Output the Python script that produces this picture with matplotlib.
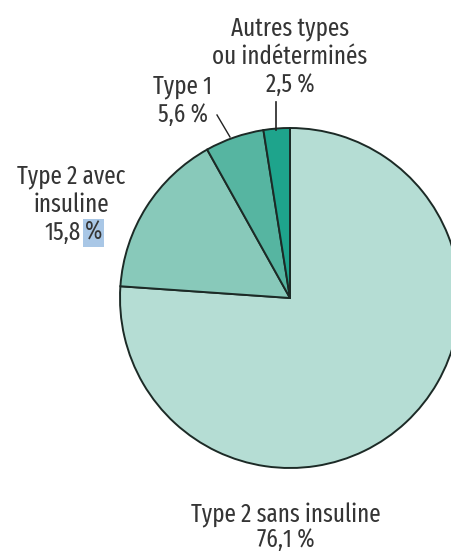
import matplotlib.pyplot as plt

plt.rcParams['font.family'] = ['Fira Sans Extra Condensed', 'DejaVu Sans']

# data
labels = ["Type 2 sans insuline", "Type 2 avec insuline", "Type 1", "Autres types ou indéterminés"]
shares = [76.1, 15.8, 5.6, 2.5]
share_text = ["76,1 %", "15,8 %", "5,6 %", "2,5 %"]
colors = ["#b5ddd4", "#88c9ba", "#56b5a1", "#1ea48c"]

W, H = 452, 552
fig = plt.figure(figsize=(W / 100, H / 100), dpi=100)
ax = fig.add_axes([0, 0, 1, 1])

cx, cy, r = 290, H - 298, 170
ax.pie(shares, colors=colors, startangle=90, counterclock=False,
       center=(cx, cy), radius=r, frame=True,
       wedgeprops={"edgecolor": "#1c2a26", "linewidth": 1.4})
ax.set_xlim(0, W)
ax.set_ylim(0, H)
ax.set_aspect('equal')
ax.axis('off')

tc = "#353535"
fs = 18


def lines(x, base, rows, step=28.5):
    # base = baseline of first row, in pixels from the top
    for i, row in enumerate(rows):
        ax.text(x, H - (base + i * step), row, ha='center', va='baseline',
                fontsize=fs, color=tc)


lines(290, 35, ["Autres types", "ou indéterminés", share_text[3]])
ax.plot([276, 276], [H - 102, H - 130], color="#222222", lw=1.2)

lines(183, 93, ["Type 1", share_text[2]])
ax.plot([217, 230], [H - 115, H - 137], color="#222222", lw=1.0)

# the "%" of 15,8 % carries a blue highlight in the source
num, pct = share_text[1].split(" ")
lines(71, 183, ["Type 2 avec", "insuline"])
ax.text(81, H - 240, num, ha='right', va='baseline', fontsize=fs, color=tc)
ax.text(85, H - 240, pct, ha='left', va='baseline', fontsize=fs, color=tc,
        bbox={"facecolor": "#a9c7e6", "edgecolor": "none", "pad": 1})

lines(286, 522, [labels[0], share_text[0]], step=25.5)

fig.savefig("out.png", dpi=100)
